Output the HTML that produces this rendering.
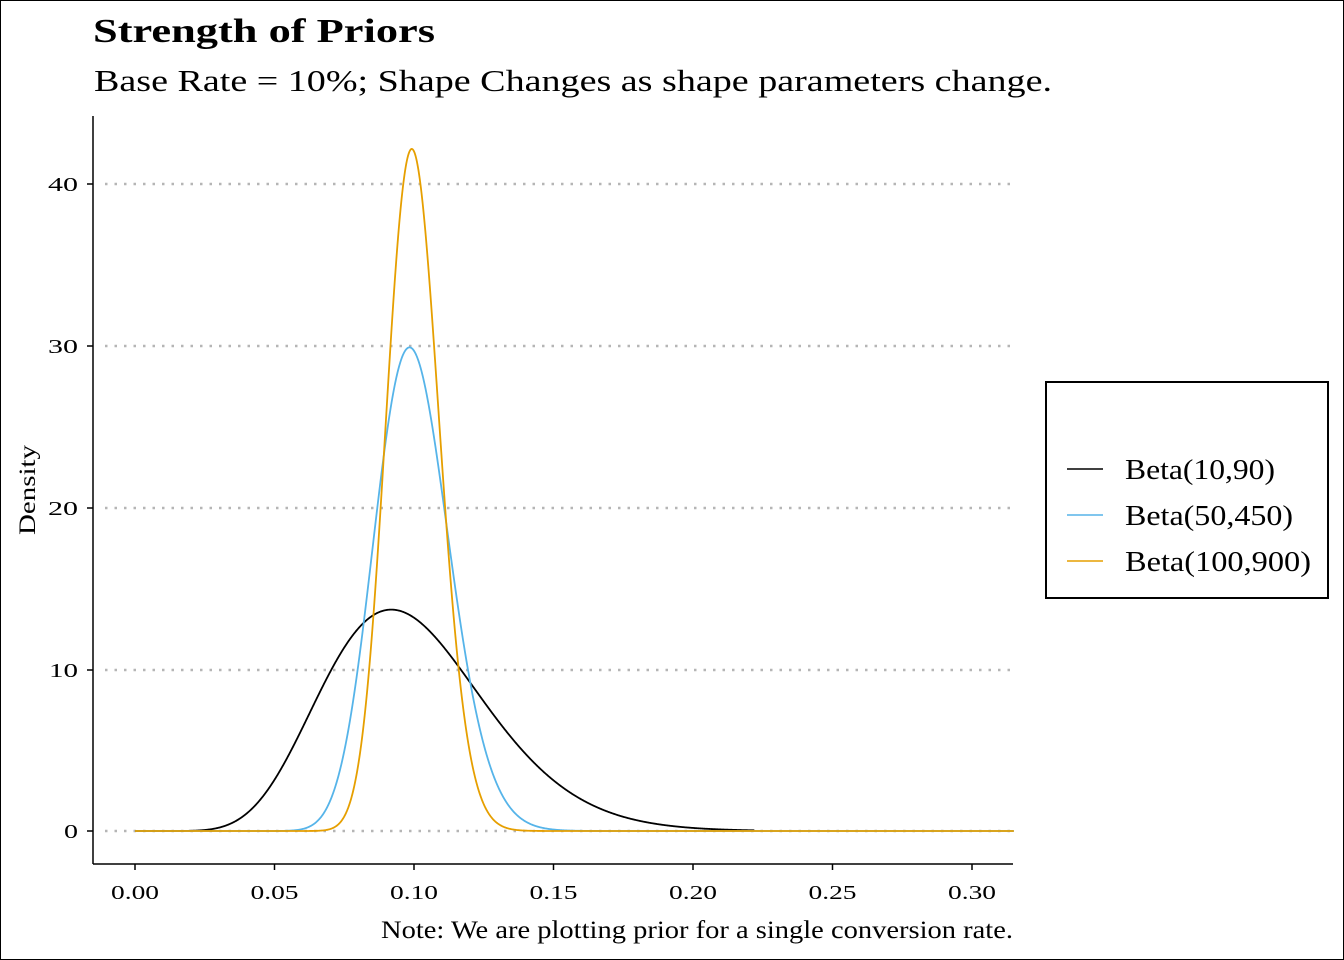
<!DOCTYPE html>
<html><head><meta charset="utf-8"><style>
html,body{margin:0;padding:0;background:#fff}
#w{position:relative;width:1342px;height:958px;border:1px solid #000;overflow:hidden}
svg{position:absolute;left:-1px;top:-1px}
text{font-family:"Liberation Serif",serif;fill:#000}
</style></head><body><div id="w">
<svg width="1344" height="960" xmlns="http://www.w3.org/2000/svg" id="s">
<text x="93" y="42" font-size="34" font-weight="bold" textLength="342" lengthAdjust="spacingAndGlyphs">Strength of Priors</text>
<text x="94" y="91" font-size="31" textLength="958" lengthAdjust="spacingAndGlyphs">Base Rate = 10%; Shape Changes as shape parameters change.</text>
<g stroke="#b5b5b5" stroke-width="2.5" stroke-dasharray="2.5,7">
<line x1="105" x2="1010" y1="184" y2="184"/><line x1="105" x2="1010" y1="346" y2="346"/>
<line x1="105" x2="1010" y1="508" y2="508"/><line x1="105" x2="1010" y1="670" y2="670"/>
<line x1="105" x2="1010" y1="831" y2="831"/></g>
<g stroke="#000" stroke-width="1.5" fill="none">
<line x1="93" y1="116" x2="93" y2="864"/><line x1="93" y1="864" x2="1013" y2="864"/>
<line x1="87" x2="93" y1="184" y2="184"/><line x1="87" x2="93" y1="346" y2="346"/>
<line x1="87" x2="93" y1="508" y2="508"/><line x1="87" x2="93" y1="670" y2="670"/>
<line x1="87" x2="93" y1="831" y2="831"/>
</g>
<g font-size="20">
<text x="48" y="191" textLength="30" lengthAdjust="spacingAndGlyphs">40</text>
<text x="48" y="353" textLength="30" lengthAdjust="spacingAndGlyphs">30</text>
<text x="48" y="515" textLength="30" lengthAdjust="spacingAndGlyphs">20</text>
<text x="49" y="677" textLength="29" lengthAdjust="spacingAndGlyphs">10</text>
<text x="64" y="838" textLength="14" lengthAdjust="spacingAndGlyphs">0</text></g>
<g id="xt" font-size="20"></g>
<text transform="translate(35,535) rotate(-90)" font-size="23" textLength="90" lengthAdjust="spacingAndGlyphs">Density</text>
<text x="381" y="938" font-size="25" textLength="632" lengthAdjust="spacingAndGlyphs">Note: We are plotting prior for a single conversion rate.</text>
<g id="curves" fill="none" stroke-width="1.8"></g>
<rect x="1046" y="382" width="282" height="216" fill="#fff" stroke="#000" stroke-width="2"/>
<line x1="1067" x2="1103" y1="469" y2="469" stroke="#000" stroke-width="1.6"/>
<line x1="1067" x2="1103" y1="515" y2="515" stroke="#56B4E9" stroke-width="1.6"/>
<line x1="1067" x2="1103" y1="561" y2="561" stroke="#E69F00" stroke-width="1.6"/>
<g font-size="28">
<text x="1125" y="479" textLength="150" lengthAdjust="spacingAndGlyphs">Beta(10,90)</text>
<text x="1125" y="525" textLength="168" lengthAdjust="spacingAndGlyphs">Beta(50,450)</text>
<text x="1125" y="571" textLength="186" lengthAdjust="spacingAndGlyphs">Beta(100,900)</text></g>
</svg></div>
<script>
var NS="http://www.w3.org/2000/svg";
function X(v){return 135+v*2790}function Y(d){return 831-d*16.175}
var xt=document.getElementById("xt");
["0.00","0.05","0.10","0.15","0.20","0.25","0.30"].forEach(function(l,i){
 var v=i*0.05,x=X(v);
 var t=document.createElementNS(NS,"line");t.setAttribute("x1",x);t.setAttribute("x2",x);t.setAttribute("y1",864);t.setAttribute("y2",870);t.setAttribute("stroke","#000");t.setAttribute("stroke-width","1.5");document.getElementById("s").appendChild(t);
 var tx=document.createElementNS(NS,"text");tx.setAttribute("x",x-24);tx.setAttribute("y",899);tx.setAttribute("textLength","48");tx.setAttribute("lengthAdjust","spacingAndGlyphs");tx.textContent=l;xt.appendChild(tx);});
function lg(z){var g=7,c=[0.99999999999980993,676.5203681218851,-1259.1392167224028,771.32342877765313,-176.61502916214059,12.507343278686905,-0.13857109526572012,9.9843695780195716e-6,1.5056327351493116e-7];
 z-=1;var x=c[0];for(var i=1;i<g+2;i++)x+=c[i]/(z+i);var t=z+g+0.5;return 0.5*Math.log(2*Math.PI)+(z+0.5)*Math.log(t)-t+Math.log(x);}
function pdf(x,a,b){if(x<=0)return 0;return Math.exp((a-1)*Math.log(x)+(b-1)*Math.log(1-x)-(lg(a)+lg(b)-lg(a+b)));}
var cur=document.getElementById("curves");
[[10,90,"#000",0.222],[50,450,"#56B4E9",0.315],[100,900,"#E69F00",0.315]].forEach(function(p){
 var d="";for(var i=0;i<=1500;i++){var v=p[3]*i/1500;d+=(i?"L":"M")+X(v).toFixed(2)+","+Y(pdf(v,p[0],p[1])).toFixed(2);}
 var e=document.createElementNS(NS,"path");e.setAttribute("d",d);e.setAttribute("stroke",p[2]);cur.appendChild(e);});
</script>
</body></html>
